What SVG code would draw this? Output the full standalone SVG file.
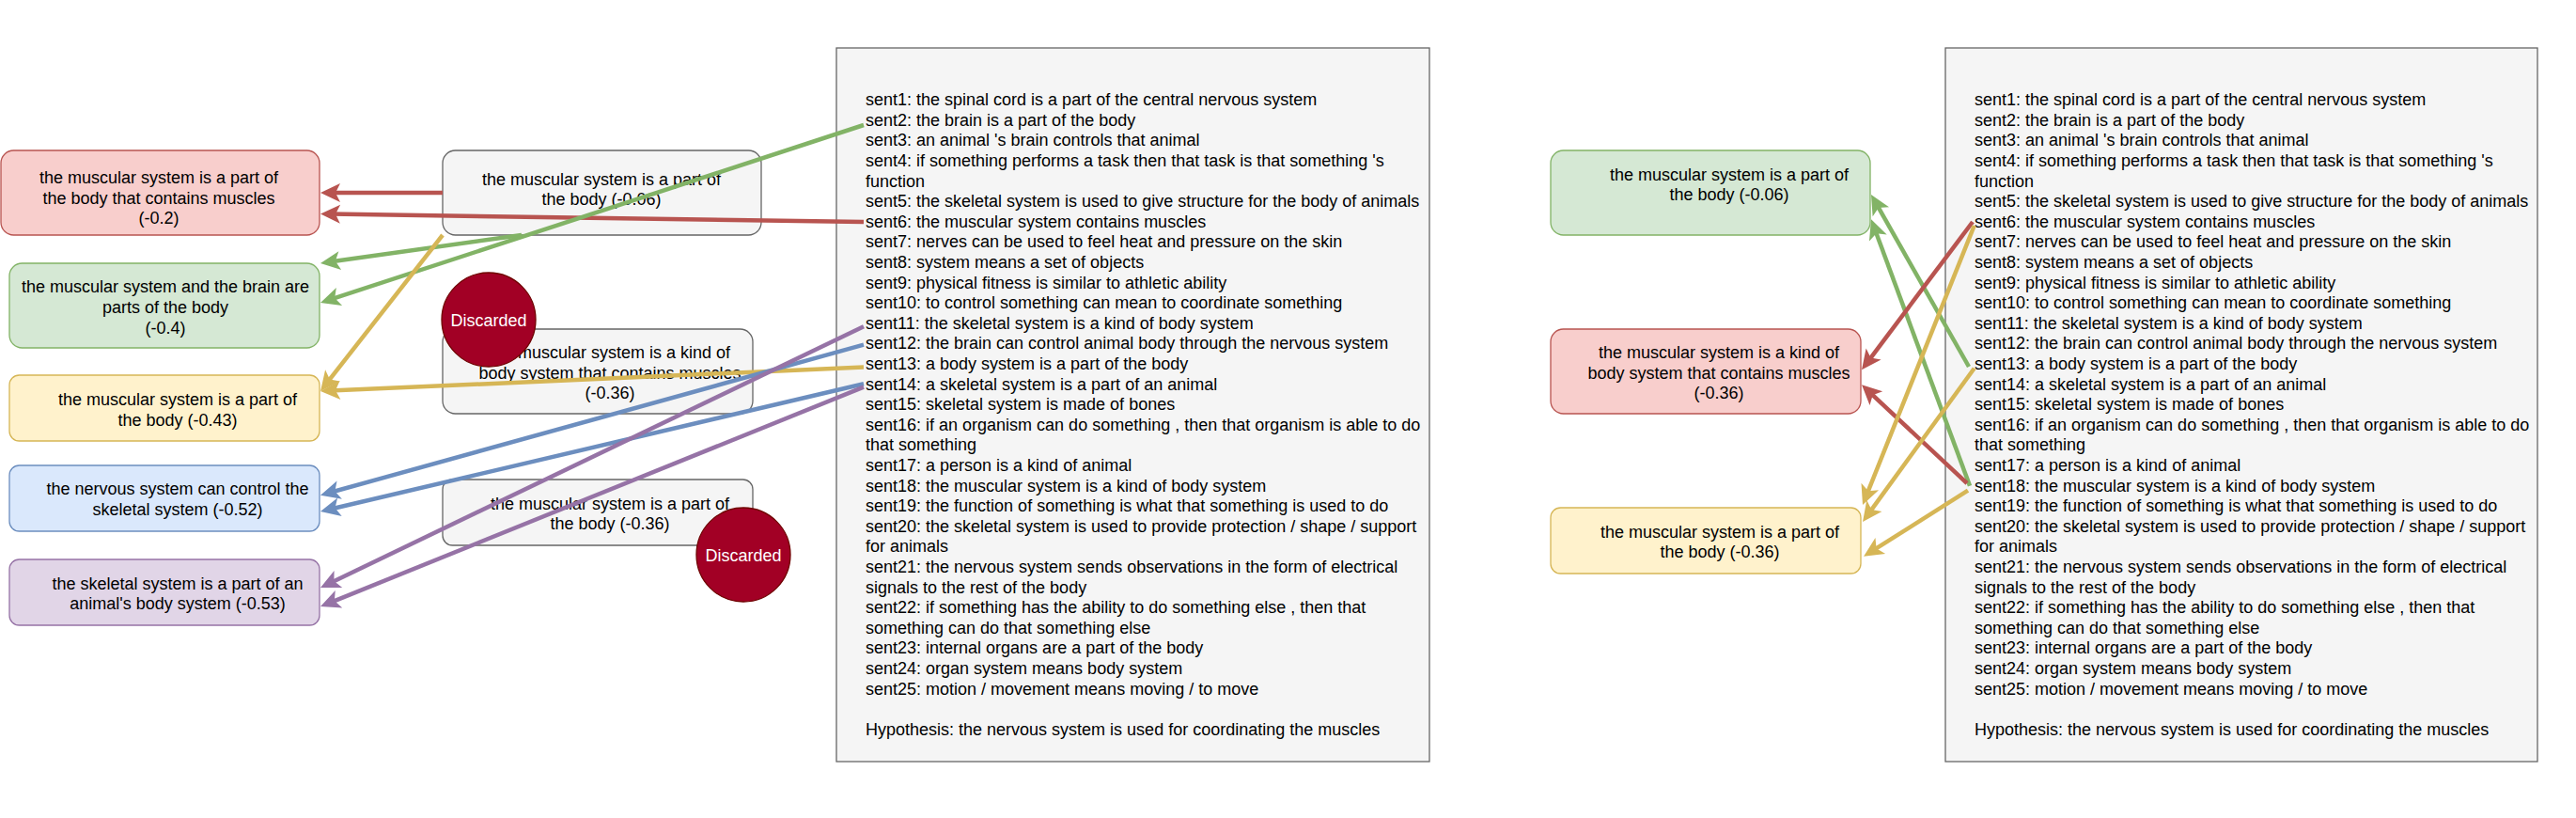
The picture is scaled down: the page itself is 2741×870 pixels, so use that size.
<svg xmlns="http://www.w3.org/2000/svg" width="2741" height="870" viewBox="0 0 2741 870">
<defs>
<style>
text{font-family:"Liberation Sans",Arial,sans-serif;font-size:18px;fill:#000}
.c{text-anchor:middle}
.node{stroke-width:1.3}
.red{fill:#f8cecc;stroke:#b85450}
.green{fill:#d5e8d4;stroke:#82b366}
.yellow{fill:#fff2cc;stroke:#d6b656}
.blue{fill:#dae8fc;stroke:#6c8ebf}
.purple{fill:#e1d5e7;stroke:#9673a6}
.gray{fill:#f5f5f5;stroke:#666666}
.disc{fill:#a20025;stroke:#6f0000;stroke-width:1.3}
.disc-t{fill:#ffffff;text-anchor:middle}
.sbox{fill:#f5f5f5;stroke:#666666;stroke-width:1.3}
.e{fill:none;stroke-width:4.5;stroke-linecap:butt}
.er{stroke:#b85450}.eg{stroke:#82b366}.ey{stroke:#d6b656}.eb{stroke:#6c8ebf}.ep{stroke:#9673a6}
</style>
<marker id="mr" viewBox="-22 -11 23 22" refX="-10" refY="0" markerWidth="23" markerHeight="22" markerUnits="userSpaceOnUse" orient="auto"><path d="M-21,-10 L0,0 L-21,10 L-16,0 Z" fill="#b85450"/></marker>
<marker id="mg" viewBox="-22 -11 23 22" refX="-10" refY="0" markerWidth="23" markerHeight="22" markerUnits="userSpaceOnUse" orient="auto"><path d="M-21,-10 L0,0 L-21,10 L-16,0 Z" fill="#82b366"/></marker>
<marker id="my" viewBox="-22 -11 23 22" refX="-10" refY="0" markerWidth="23" markerHeight="22" markerUnits="userSpaceOnUse" orient="auto"><path d="M-21,-10 L0,0 L-21,10 L-16,0 Z" fill="#d6b656"/></marker>
<marker id="mb" viewBox="-22 -11 23 22" refX="-10" refY="0" markerWidth="23" markerHeight="22" markerUnits="userSpaceOnUse" orient="auto"><path d="M-21,-10 L0,0 L-21,10 L-16,0 Z" fill="#6c8ebf"/></marker>
<marker id="mp" viewBox="-22 -11 23 22" refX="-10" refY="0" markerWidth="23" markerHeight="22" markerUnits="userSpaceOnUse" orient="auto"><path d="M-21,-10 L0,0 L-21,10 L-16,0 Z" fill="#9673a6"/></marker>
</defs>
<rect width="2741" height="870" fill="#ffffff"/>

<g id="facts-left">
<rect class="sbox" x="890" y="51" width="631" height="759"/>
<text x="921" y="112.2"><tspan x="921">sent1: the spinal cord is a part of the central nervous system</tspan><tspan x="921" dy="21.6">sent2: the brain is a part of the body</tspan><tspan x="921" dy="21.6">sent3: an animal 's brain controls that animal</tspan><tspan x="921" dy="21.6">sent4: if something performs a task then that task is that something 's</tspan><tspan x="921" dy="21.6">function</tspan><tspan x="921" dy="21.6">sent5: the skeletal system is used to give structure for the body of animals</tspan><tspan x="921" dy="21.6">sent6: the muscular system contains muscles</tspan><tspan x="921" dy="21.6">sent7: nerves can be used to feel heat and pressure on the skin</tspan><tspan x="921" dy="21.6">sent8: system means a set of objects</tspan><tspan x="921" dy="21.6">sent9: physical fitness is similar to athletic ability</tspan><tspan x="921" dy="21.6">sent10: to control something can mean to coordinate something</tspan><tspan x="921" dy="21.6">sent11: the skeletal system is a kind of body system</tspan><tspan x="921" dy="21.6">sent12: the brain can control animal body through the nervous system</tspan><tspan x="921" dy="21.6">sent13: a body system is a part of the body</tspan><tspan x="921" dy="21.6">sent14: a skeletal system is a part of an animal</tspan><tspan x="921" dy="21.6">sent15: skeletal system is made of bones</tspan><tspan x="921" dy="21.6">sent16: if an organism can do something , then that organism is able to do</tspan><tspan x="921" dy="21.6">that something</tspan><tspan x="921" dy="21.6">sent17: a person is a kind of animal</tspan><tspan x="921" dy="21.6">sent18: the muscular system is a kind of body system</tspan><tspan x="921" dy="21.6">sent19: the function of something is what that something is used to do</tspan><tspan x="921" dy="21.6">sent20: the skeletal system is used to provide protection / shape / support</tspan><tspan x="921" dy="21.6">for animals</tspan><tspan x="921" dy="21.6">sent21: the nervous system sends observations in the form of electrical</tspan><tspan x="921" dy="21.6">signals to the rest of the body</tspan><tspan x="921" dy="21.6">sent22: if something has the ability to do something else , then that</tspan><tspan x="921" dy="21.6">something can do that something else</tspan><tspan x="921" dy="21.6">sent23: internal organs are a part of the body</tspan><tspan x="921" dy="21.6">sent24: organ system means body system</tspan><tspan x="921" dy="21.6">sent25: motion / movement means moving / to move</tspan><tspan x="921" dy="43.2">Hypothesis: the nervous system is used for coordinating the muscles</tspan></text>
</g>

<g id="facts-right">
<rect class="sbox" x="2070" y="51" width="630" height="759"/>
<text x="2101" y="112.2"><tspan x="2101">sent1: the spinal cord is a part of the central nervous system</tspan><tspan x="2101" dy="21.6">sent2: the brain is a part of the body</tspan><tspan x="2101" dy="21.6">sent3: an animal 's brain controls that animal</tspan><tspan x="2101" dy="21.6">sent4: if something performs a task then that task is that something 's</tspan><tspan x="2101" dy="21.6">function</tspan><tspan x="2101" dy="21.6">sent5: the skeletal system is used to give structure for the body of animals</tspan><tspan x="2101" dy="21.6">sent6: the muscular system contains muscles</tspan><tspan x="2101" dy="21.6">sent7: nerves can be used to feel heat and pressure on the skin</tspan><tspan x="2101" dy="21.6">sent8: system means a set of objects</tspan><tspan x="2101" dy="21.6">sent9: physical fitness is similar to athletic ability</tspan><tspan x="2101" dy="21.6">sent10: to control something can mean to coordinate something</tspan><tspan x="2101" dy="21.6">sent11: the skeletal system is a kind of body system</tspan><tspan x="2101" dy="21.6">sent12: the brain can control animal body through the nervous system</tspan><tspan x="2101" dy="21.6">sent13: a body system is a part of the body</tspan><tspan x="2101" dy="21.6">sent14: a skeletal system is a part of an animal</tspan><tspan x="2101" dy="21.6">sent15: skeletal system is made of bones</tspan><tspan x="2101" dy="21.6">sent16: if an organism can do something , then that organism is able to do</tspan><tspan x="2101" dy="21.6">that something</tspan><tspan x="2101" dy="21.6">sent17: a person is a kind of animal</tspan><tspan x="2101" dy="21.6">sent18: the muscular system is a kind of body system</tspan><tspan x="2101" dy="21.6">sent19: the function of something is what that something is used to do</tspan><tspan x="2101" dy="21.6">sent20: the skeletal system is used to provide protection / shape / support</tspan><tspan x="2101" dy="21.6">for animals</tspan><tspan x="2101" dy="21.6">sent21: the nervous system sends observations in the form of electrical</tspan><tspan x="2101" dy="21.6">signals to the rest of the body</tspan><tspan x="2101" dy="21.6">sent22: if something has the ability to do something else , then that</tspan><tspan x="2101" dy="21.6">something can do that something else</tspan><tspan x="2101" dy="21.6">sent23: internal organs are a part of the body</tspan><tspan x="2101" dy="21.6">sent24: organ system means body system</tspan><tspan x="2101" dy="21.6">sent25: motion / movement means moving / to move</tspan><tspan x="2101" dy="43.2">Hypothesis: the nervous system is used for coordinating the muscles</tspan></text>
</g>

<g id="node-red-left">
<rect class="node red" x="1" y="160" width="339" height="90" rx="13.5"/>
<text class="c"><tspan x="169" y="195">the muscular system is a part of</tspan><tspan x="169" y="216.5">the body that contains muscles</tspan><tspan x="169" y="238">(-0.2)</tspan></text>
</g>
<g id="node-green-left">
<rect class="node green" x="10" y="280" width="330" height="90" rx="13.5"/>
<text class="c"><tspan x="176" y="310.5">the muscular system and the brain are</tspan><tspan x="176" y="332.5">parts of the body</tspan><tspan x="176" y="354.8">(-0.4)</tspan></text>
</g>
<g id="node-yellow-left">
<rect class="node yellow" x="10" y="399" width="330" height="70" rx="10.5"/>
<text class="c"><tspan x="189" y="430.8">the muscular system is a part of</tspan><tspan x="189" y="452.5">the body (-0.43)</tspan></text>
</g>
<g id="node-blue-left">
<rect class="node blue" x="10" y="495" width="330" height="70" rx="10.5"/>
<text class="c"><tspan x="189" y="525.8">the nervous system can control the</tspan><tspan x="189" y="547.5">skeletal system (-0.52)</tspan></text>
</g>
<g id="node-purple-left">
<rect class="node purple" x="10" y="595" width="330" height="70" rx="10.5"/>
<text class="c"><tspan x="189" y="626.5">the skeletal system is a part of an</tspan><tspan x="189" y="648.2">animal's body system (-0.53)</tspan></text>
</g>
<g id="node-gray-1">
<rect class="node gray" x="471" y="160" width="339" height="90" rx="13.5"/>
<text class="c"><tspan x="640" y="196.5">the muscular system is a part of</tspan><tspan x="640" y="218">the body (-0.06)</tspan></text>
</g>
<g id="node-gray-2">
<rect class="node gray" x="471" y="350" width="330" height="90" rx="13.5"/>
<text class="c"><tspan x="649" y="380.8">the muscular system is a kind of</tspan><tspan x="649" y="402.5">body system that contains muscles</tspan><tspan x="649" y="424">(-0.36)</tspan></text>
</g>
<g id="node-gray-3">
<rect class="node gray" x="471" y="510" width="330" height="70" rx="10.5"/>
<text class="c"><tspan x="649" y="541.5">the muscular system is a part of</tspan><tspan x="649" y="563.2">the body (-0.36)</tspan></text>
</g>

<g id="node-green-right">
<rect class="node green" x="1650" y="160" width="340" height="90" rx="13.5"/>
<text class="c"><tspan x="1840" y="191.5">the muscular system is a part of</tspan><tspan x="1840" y="213.2">the body (-0.06)</tspan></text>
</g>
<g id="node-red-right">
<rect class="node red" x="1650" y="350" width="330" height="90" rx="13.5"/>
<text class="c"><tspan x="1829" y="380.5">the muscular system is a kind of</tspan><tspan x="1829" y="402.5">body system that contains muscles</tspan><tspan x="1829" y="423.8">(-0.36)</tspan></text>
</g>
<g id="node-yellow-right">
<rect class="node yellow" x="1650" y="540" width="330" height="70" rx="10.5"/>
<text class="c"><tspan x="1830" y="571.5">the muscular system is a part of</tspan><tspan x="1830" y="593.2">the body (-0.36)</tspan></text>
</g>

<g id="connectors">
<line class="e er" x1="471" y1="205" x2="351" y2="205" marker-end="url(#mr)"/>
<line class="e er" x1="919" y1="236" x2="351" y2="227.6" marker-end="url(#mr)"/>
<line class="e eg" x1="919" y1="133" x2="350.5" y2="318.9" marker-end="url(#mg)"/>
<line class="e eg" x1="555" y1="250" x2="350.9" y2="278.6" marker-end="url(#mg)"/>
<line class="e ey" x1="471" y1="250" x2="347.2" y2="408.1" marker-end="url(#my)"/>
<line class="e ey" x1="919" y1="390.5" x2="351" y2="415.6" marker-end="url(#my)"/>
<line class="e eb" x1="919" y1="366.7" x2="350.6" y2="524" marker-end="url(#mb)"/>
<line class="e eb" x1="919" y1="408.3" x2="350.7" y2="541.7" marker-end="url(#mb)"/>
<line class="e ep" x1="919" y1="347.3" x2="350" y2="620.7" marker-end="url(#mp)"/>
<line class="e ep" x1="919" y1="411.7" x2="350.3" y2="641.3" marker-end="url(#mp)"/>

<line class="e eg" x1="2095" y1="390" x2="1995.9" y2="215.7" marker-end="url(#mg)"/>
<line class="e eg" x1="2096" y1="516.7" x2="1994.5" y2="242.7" marker-end="url(#mg)"/>
<line class="e er" x1="2099" y1="236" x2="1987" y2="385.3" marker-end="url(#mr)"/>
<line class="e er" x1="2093" y1="514" x2="1988.3" y2="416.1" marker-end="url(#mr)"/>
<line class="e ey" x1="2100.7" y1="240" x2="1985.7" y2="527.7" marker-end="url(#my)"/>
<line class="e ey" x1="2100.7" y1="391.7" x2="1987.9" y2="546.9" marker-end="url(#my)"/>
<line class="e ey" x1="2094" y1="521.7" x2="1991.5" y2="586.4" marker-end="url(#my)"/>
</g>

<g id="discarded-1">
<circle class="disc" cx="520" cy="340" r="50"/>
<text class="disc-t" x="520" y="346.5">Discarded</text>
</g>
<g id="discarded-2">
<circle class="disc" cx="791" cy="590" r="50"/>
<text class="disc-t" x="791" y="596.5">Discarded</text>
</g>
</svg>
